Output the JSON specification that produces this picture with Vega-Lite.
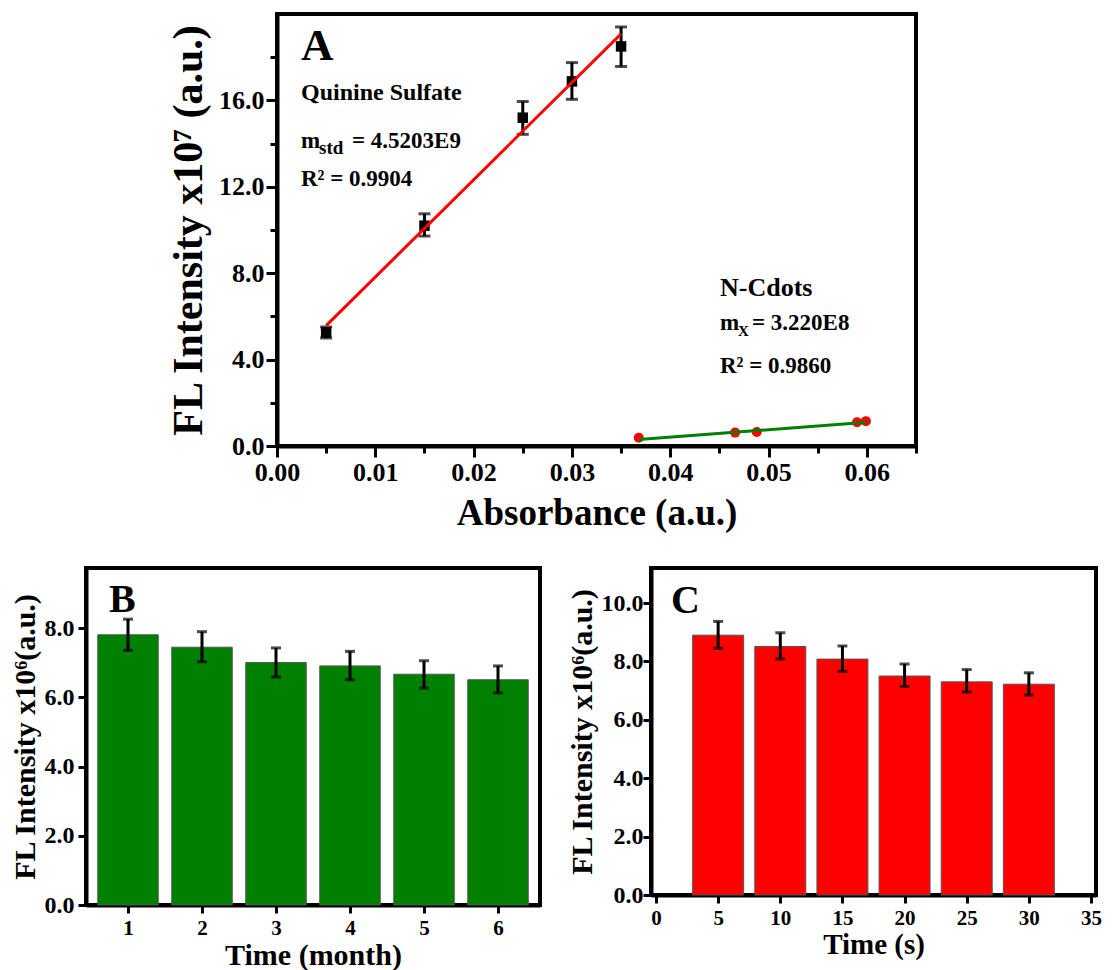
{
  "$schema": "https://vega.github.io/schema/vega-lite/v6.json",
  "background": "white",
  "padding": {"left": 8, "top": 12, "right": 0, "bottom": 2},
  "datasets": {
    "qs": [
      {"x": 0.005, "y": 5.26, "lo": 5.0, "hi": 5.51},
      {"x": 0.015, "y": 10.2, "lo": 9.72, "hi": 10.75},
      {"x": 0.025, "y": 15.2, "lo": 14.43, "hi": 15.95},
      {"x": 0.03, "y": 16.88, "lo": 16.05, "hi": 17.75},
      {"x": 0.035, "y": 18.5, "lo": 17.57, "hi": 19.4}
    ],
    "qsfit": [{"x": 0.005, "y": 5.57}, {"x": 0.035, "y": 19.08}],
    "nc": [
      {"x": 0.0368, "y": 0.38},
      {"x": 0.0466, "y": 0.62},
      {"x": 0.0488, "y": 0.65},
      {"x": 0.059, "y": 1.1},
      {"x": 0.0599, "y": 1.15}
    ],
    "ncfit": [{"x": 0.0368, "y": 0.3}, {"x": 0.06, "y": 1.1}],
    "stabB": [
      {"time": 1, "fl": 7.81, "lo": 7.36, "hi": 8.26},
      {"time": 2, "fl": 7.45, "lo": 7.03, "hi": 7.9},
      {"time": 3, "fl": 7.01, "lo": 6.59, "hi": 7.43},
      {"time": 4, "fl": 6.91, "lo": 6.51, "hi": 7.33},
      {"time": 5, "fl": 6.67, "lo": 6.27, "hi": 7.06},
      {"time": 6, "fl": 6.51, "lo": 6.13, "hi": 6.91}
    ],
    "stabC": [
      {"t": 5, "fl": 8.9, "lo": 8.45, "hi": 9.37},
      {"t": 10, "fl": 8.51, "lo": 8.08, "hi": 8.98},
      {"t": 15, "fl": 8.08, "lo": 7.66, "hi": 8.53},
      {"t": 20, "fl": 7.5, "lo": 7.14, "hi": 7.91},
      {"t": 25, "fl": 7.3, "lo": 6.95, "hi": 7.72},
      {"t": 30, "fl": 7.22, "lo": 6.85, "hi": 7.61}
    ]
  },
  "config": {
    "font": "Liberation Serif",
    "view": {"stroke": "black", "strokeWidth": 4},
    "axis": {
      "labelFont": "Liberation Serif", "labelFontWeight": "bold", "labelColor": "black",
      "titleFont": "Liberation Serif", "titleFontWeight": "bold", "titleColor": "black",
      "domainColor": "black", "domainWidth": 4, "tickColor": "black", "tickWidth": 3,
      "grid": false, "labelOverlap": false, "labelBound": false, "labelFlush": false
    },
    "text": {"font": "Liberation Serif", "fontWeight": "bold", "color": "black"}
  },
  "spacing": 33,
  "vconcat": [
    {
      "spacing": 0,
      "hconcat": [
        {
          "width": 79, "height": 10, "view": {"stroke": null},
          "data": {"values": []},
          "mark": {"type": "point"},
          "encoding": {}
        },
        {
          "width": 639, "height": 432,
          "layer": [
            {
              "data": {"name": "qs"},
              "mark": {"type": "errorbar", "ticks": true, "color": "black", "thickness": 3, "size": 12},
              "encoding": {
                "x": {"field": "x", "type": "quantitative", "title": "Absorbance (a.u.)",
                  "scale": {"domain": [0, 0.065], "nice": false, "zero": false},
                  "axis": {
                    "values": [0, 0.005, 0.01, 0.015, 0.02, 0.025, 0.03, 0.035, 0.04, 0.045, 0.05, 0.055, 0.06, 0.065],
                    "labelExpr": "round(datum.value*1000) % 10 === 0 ? format(datum.value, '.2f') : ' '",
                    "tickSize": {"condition": {"test": "round(datum.value*1000) % 10 === 0", "value": 11}, "value": 7},
                    "labelOverlap": false,
                    "labelFontSize": 26, "titleFontSize": 37, "labelPadding": 2, "titlePadding": 10
                  }},
                "y": {"field": "lo", "type": "quantitative", "title": "FL Intensity x10⁷ (a.u.)",
                  "scale": {"domain": [0, 20], "nice": false},
                  "axis": {
                    "values": [0, 2, 4, 6, 8, 10, 12, 14, 16, 18],
                    "labelExpr": "datum.value % 4 === 0 ? format(datum.value, '.1f') : ' '",
                    "tickSize": {"condition": {"test": "datum.value % 4 === 0", "value": 11}, "value": 7},
                    "labelOverlap": false,
                    "labelFontSize": 26, "titleFontSize": 42, "labelPadding": 2, "titlePadding": 8
                  }},
                "y2": {"field": "hi"}
              }
            },
            {
              "data": {"name": "qs"},
              "mark": {"type": "square", "size": 110, "color": "black", "opacity": 1},
              "encoding": {
                "x": {"field": "x", "type": "quantitative", "title": "Absorbance (a.u.)"},
                "y": {"field": "y", "type": "quantitative", "title": "FL Intensity x10⁷ (a.u.)"}
              }
            },
            {
              "data": {"name": "qsfit"},
              "mark": {"type": "line", "color": "#ff0000", "strokeWidth": 3},
              "encoding": {
                "x": {"field": "x", "type": "quantitative", "title": "Absorbance (a.u.)"},
                "y": {"field": "y", "type": "quantitative", "title": "FL Intensity x10⁷ (a.u.)"}
              }
            },
            {
              "data": {"name": "nc"},
              "mark": {"type": "circle", "size": 100, "color": "#ff0000", "opacity": 1},
              "encoding": {
                "x": {"field": "x", "type": "quantitative", "title": "Absorbance (a.u.)"},
                "y": {"field": "y", "type": "quantitative", "title": "FL Intensity x10⁷ (a.u.)"}
              }
            },
            {
              "data": {"name": "ncfit"},
              "mark": {"type": "line", "color": "#008000", "strokeWidth": 3},
              "encoding": {
                "x": {"field": "x", "type": "quantitative", "title": "Absorbance (a.u.)"},
                "y": {"field": "y", "type": "quantitative", "title": "FL Intensity x10⁷ (a.u.)"}
              }
            },
            {
              "data": {"values": [{}]},
              "mark": {"type": "text", "text": "A", "align": "left", "baseline": "alphabetic", "fontSize": 45},
              "encoding": {"x": {"datum": 0.00244}, "y": {"datum": 17.87}}
            },
            {
              "data": {"values": [{}]},
              "mark": {"type": "text", "text": "Quinine Sulfate", "align": "left", "baseline": "alphabetic", "fontSize": 24},
              "encoding": {"x": {"datum": 0.00244}, "y": {"datum": 16.02}}
            },
            {
              "data": {"values": [{}]},
              "mark": {"type": "text", "text": "m", "align": "left", "baseline": "alphabetic", "fontSize": 23},
              "encoding": {"x": {"datum": 0.00244}, "y": {"datum": 13.8}}
            },
            {
              "data": {"values": [{}]},
              "mark": {"type": "text", "text": "std", "align": "left", "baseline": "alphabetic", "fontSize": 19, "dx": 18, "dy": 6},
              "encoding": {"x": {"datum": 0.00244}, "y": {"datum": 13.8}}
            },
            {
              "data": {"values": [{}]},
              "mark": {"type": "text", "text": "= 4.5203E9", "align": "left", "baseline": "alphabetic", "fontSize": 23, "dx": 51},
              "encoding": {"x": {"datum": 0.00244}, "y": {"datum": 13.8}}
            },
            {
              "data": {"values": [{}]},
              "mark": {"type": "text", "text": "R² = 0.9904", "align": "left", "baseline": "alphabetic", "fontSize": 23},
              "encoding": {"x": {"datum": 0.00244}, "y": {"datum": 12.04}}
            },
            {
              "data": {"values": [{}]},
              "mark": {"type": "text", "text": "N-Cdots", "align": "left", "baseline": "alphabetic", "fontSize": 26},
              "encoding": {"x": {"datum": 0.04506}, "y": {"datum": 6.94}}
            },
            {
              "data": {"values": [{}]},
              "mark": {"type": "text", "text": "m", "align": "left", "baseline": "alphabetic", "fontSize": 23},
              "encoding": {"x": {"datum": 0.04506}, "y": {"datum": 5.37}}
            },
            {
              "data": {"values": [{}]},
              "mark": {"type": "text", "text": "X", "align": "left", "baseline": "alphabetic", "fontSize": 15, "dx": 18, "dy": 6},
              "encoding": {"x": {"datum": 0.04506}, "y": {"datum": 5.37}}
            },
            {
              "data": {"values": [{}]},
              "mark": {"type": "text", "text": "= 3.220E8", "align": "left", "baseline": "alphabetic", "fontSize": 23, "dx": 32},
              "encoding": {"x": {"datum": 0.04506}, "y": {"datum": 5.37}}
            },
            {
              "data": {"values": [{}]},
              "mark": {"type": "text", "text": "R² = 0.9860", "align": "left", "baseline": "alphabetic", "fontSize": 23},
              "encoding": {"x": {"datum": 0.04506}, "y": {"datum": 3.38}}
            }
          ]
        }
      ]
    },
    {
      "spacing": 23,
      "hconcat": [
        {
          "width": 454, "height": 337,
          "data": {"name": "stabB"},
          "layer": [
            {
              "mark": {"type": "bar", "orient": "vertical", "color": "#008000", "stroke": "#555555", "strokeWidth": 1, "width": 60.5},
              "encoding": {
                "x": {"field": "time", "type": "quantitative", "title": "Time (month)",
                  "scale": {"domain": [0.5, 6.5], "nice": false, "zero": false},
                  "axis": {
                    "values": [1, 2, 3, 4, 5, 6],
                    "format": "d",
                    "tickSize": 8,
                    "labelOverlap": false,
                    "labelFontSize": 21, "titleFontSize": 30, "labelPadding": 4, "titlePadding": 2
                  }},
                "y": {"field": "fl", "type": "quantitative", "title": "FL Intensity x10⁶(a.u.)",
                  "scale": {"domain": [0, 9.74], "nice": false},
                  "axis": {
                    "values": [0, 1, 2, 3, 4, 5, 6, 7, 8, 9],
                    "labelExpr": "datum.value % 2 === 0 ? format(datum.value, '.1f') : ' '",
                    "tickSize": {"condition": {"test": "datum.value % 2 === 0", "value": 8}, "value": 5},
                    "labelOverlap": false,
                    "labelFontSize": 24, "titleFontSize": 30, "labelPadding": 4, "titlePadding": 4
                  }}
              }
            },
            {
              "mark": {"type": "errorbar", "ticks": true, "color": "black", "thickness": 3, "size": 10},
              "encoding": {
                "x": {"field": "time", "type": "quantitative", "title": "Time (month)"},
                "y": {"field": "lo", "type": "quantitative", "title": "FL Intensity x10⁶(a.u.)"},
                "y2": {"field": "hi"}
              }
            },
            {
              "data": {"values": [{}]},
              "mark": {"type": "text", "text": "B", "align": "left", "baseline": "alphabetic", "fontSize": 40},
              "encoding": {"x": {"datum": 0.744}, "y": {"datum": 8.47}}
            }
          ]
        },
        {
          "width": 445, "height": 327,
          "data": {"name": "stabC"},
          "layer": [
            {
              "mark": {"type": "bar", "orient": "vertical", "color": "#ff0000", "stroke": "#555555", "strokeWidth": 1, "width": 51},
              "encoding": {
                "x": {"field": "t", "type": "quantitative", "title": "Time (s)",
                  "scale": {"domain": [0, 35], "nice": false, "zero": false},
                  "axis": {
                    "values": [0, 2.5, 5, 7.5, 10, 12.5, 15, 17.5, 20, 22.5, 25, 27.5, 30, 32.5, 35],
                    "labelExpr": "datum.value % 5 === 0 ? format(datum.value, 'd') : ' '",
                    "tickSize": {"condition": {"test": "datum.value % 5 === 0", "value": 8}, "value": 5},
                    "labelOverlap": false,
                    "labelFontSize": 21, "titleFontSize": 29, "labelPadding": 4, "titlePadding": 2
                  }},
                "y": {"field": "fl", "type": "quantitative", "title": "FL Intensity x10⁶(a.u.)",
                  "scale": {"domain": [0, 11.2], "nice": false},
                  "axis": {
                    "values": [0, 1, 2, 3, 4, 5, 6, 7, 8, 9, 10, 11],
                    "labelExpr": "datum.value % 2 === 0 ? format(datum.value, '.1f') : ' '",
                    "tickSize": {"condition": {"test": "datum.value % 2 === 0", "value": 8}, "value": 5},
                    "labelOverlap": false,
                    "labelFontSize": 24, "titleFontSize": 30, "labelPadding": 0, "titlePadding": 4
                  }}
              }
            },
            {
              "mark": {"type": "errorbar", "ticks": true, "color": "black", "thickness": 3, "size": 10},
              "encoding": {
                "x": {"field": "t", "type": "quantitative", "title": "Time (s)"},
                "y": {"field": "lo", "type": "quantitative", "title": "FL Intensity x10⁶(a.u.)"},
                "y2": {"field": "hi"}
              }
            },
            {
              "data": {"values": [{}]},
              "mark": {"type": "text", "text": "C", "align": "left", "baseline": "alphabetic", "fontSize": 40},
              "encoding": {"x": {"datum": 1.2}, "y": {"datum": 9.66}}
            }
          ]
        }
      ]
    }
  ]
}
